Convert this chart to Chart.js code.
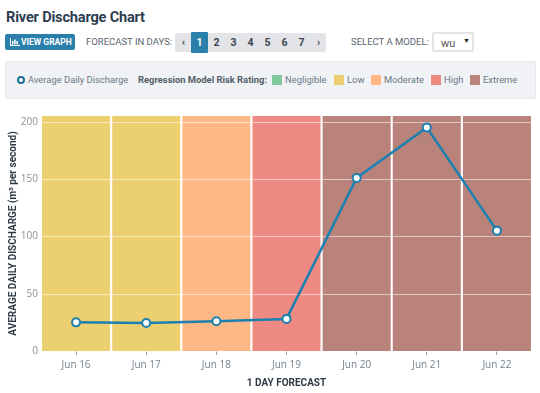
<!DOCTYPE html>
<html>
<head>
<meta charset="utf-8">
<script src="https://cdn.jsdelivr.net/npm/chart.js@4/dist/chart.umd.min.js"></script>
<style>
  html, body { margin: 0; padding: 0; background: #fff; }
  body { width: 540px; height: 393px; position: relative; overflow: hidden; font-family: Roboto, sans-serif; color: #55606c; }
  .abs { position: absolute; white-space: nowrap; }
  #title { left: 6px; top: 8px; font-size: 14.6px; line-height: 18px; font-weight: 700; color: #2c3e50; letter-spacing: -0.2px; }
  #viewBtn { left: 5px; top: 34px; width: 70px; height: 16px; background: #2b80ab; border-radius: 2px; color: #fff; font-size: 8.5px; font-weight: 700; line-height: 16px; }
  #viewBtn svg { position: absolute; left: 5px; top: 4px; }
  #viewBtn span { position: absolute; left: 16px; }
  .lbl { font-size: 9.5px; line-height: 12px; color: #5a6570; }
  #pager { left: 175px; top: 33px; width: 151px; height: 19px; background: #e3e4e7; border-radius: 2px; }
  .pg { position: absolute; top: 33px; width: 17px; height: 19px; line-height: 20px; text-align: center; font-size: 10.5px; font-weight: 700; color: #3c4650; }
  .pg.on { top: 32px; height: 21px; line-height: 22px; background: #2b80ab; color: #fff; border-radius: 1px; }
  #select { left: 432px; top: 32px; width: 38px; height: 16px; border: 2px solid #e2e3e6; background: #fff; border-radius: 2px; font-size: 11px; line-height: 19px; color: #555; }
  #select b { position: absolute; left: 7px; font-weight: 400; }
  #select i { position: absolute; left: 29px; top: -2px; font-style: normal; font-size: 7px; color: #222; }
  #legendBox { left: 5px; top: 61px; width: 529px; height: 36px; background: #f0f2f6; border: 1px solid #e5e8ee; border-radius: 2px; }
  .lg { font-size: 9.4px; line-height: 12px; top: 74px; color: #6b7785; }
  .sw { position: absolute; top: 75px; width: 10px; height: 10px; }
  #dot { left: 17px; top: 76px; width: 4px; height: 4px; border: 2px solid #1f6f9c; border-radius: 50%; background: #fff; box-sizing: content-box; }
  #wrap { position: absolute; left: 0; top: 105px; width: 540px; height: 288px; }
</style>
</head>
<body>
<div class="abs" id="title">River Discharge Chart</div>
<div class="abs" id="viewBtn">
  <svg width="10" height="8" viewBox="0 0 10 8"><path fill="#fff" d="M0 0h1v7h9v1H0zM2 3h1.500v3.500H2zM4.200 1.500h1.500v5H4.200zM6.400 3h1.500v3.500H6.400z"/></svg>
  <span>VIEW GRAPH</span>
</div>
<div class="abs lbl" style="left:86px;top:36px">FORECAST IN DAYS:</div>
<div class="abs" id="pager"></div>
<div id="pages"></div>
<div class="abs lbl" style="left:351px;top:36px">SELECT A MODEL:</div>
<div class="abs" id="select"><b>wu</b><i>&#9660;</i></div>
<div class="abs" id="legendBox"></div>
<div class="abs" id="dot"></div>
<div class="abs lg" style="left:28px">Average Daily Discharge</div>
<div class="abs lg" style="left:138px;font-weight:700;color:#535e69">Regression Model Risk Rating:</div>
<div id="riskLegend"></div>
<div id="wrap"><canvas id="riverChart" width="540" height="288"></canvas></div>

<script>
var days = ['Jun 16', 'Jun 17', 'Jun 18', 'Jun 19', 'Jun 20', 'Jun 21', 'Jun 22'];
var discharge = [25, 24.5, 26, 28, 151, 195, 105];
var dayRisk = ['Low', 'Low', 'Moderate', 'High', 'Extreme', 'Extreme', 'Extreme'];
var riskNames = ['Negligible', 'Low', 'Moderate', 'High', 'Extreme'];
var riskColors = ['#80c79d', '#ecd06f', '#fdb885', '#ee8a82', '#b9827a'];
var pageLabels = ['\u2039', '1', '2', '3', '4', '5', '6', '7', '\u203a'];
var axisTop = 205;

// html bits around the chart
var pagesEl = document.getElementById('pages');
var pageLeft = [175, 191, 208, 225, 242, 259, 276, 293, 310];
pageLabels.forEach(function (p, i) {
  var d = document.createElement('div');
  d.className = 'pg' + (p === '1' ? ' on' : '');
  d.style.left = pageLeft[i] + 'px';
  d.textContent = p;
  pagesEl.appendChild(d);
});
var swatchLeft = [272, 334, 371, 431, 470];
var riskLegend = document.getElementById('riskLegend');
riskNames.forEach(function (n, i) {
  var s = document.createElement('div');
  s.className = 'sw';
  s.style.left = swatchLeft[i] + 'px';
  s.style.background = riskColors[i];
  riskLegend.appendChild(s);
  var t = document.createElement('div');
  t.className = 'abs lg';
  t.style.left = (swatchLeft[i] + 13) + 'px';
  t.textContent = n;
  riskLegend.appendChild(t);
});

// white horizontal lines sit above the risk bands but below the line
var bandGrid = {
  id: 'bandGrid',
  afterDatasetDraw: function (chart, args) {
    if (args.index !== 1) return;
    var ctx = chart.ctx, y = chart.scales.y, area = chart.chartArea;
    ctx.save();
    ctx.strokeStyle = 'rgba(255,255,255,0.55)';
    ctx.lineWidth = 1;
    y.ticks.forEach(function (t) {
      var py = Math.round(y.getPixelForValue(t.value)) + 0.5;
      ctx.beginPath();
      ctx.moveTo(area.left, py);
      ctx.lineTo(area.right, py);
      ctx.stroke();
    });
    ctx.restore();
  }
};

new Chart(document.getElementById('riverChart'), {
  data: {
    labels: days,
    datasets: [
      {
        type: 'line',
        label: 'Average Daily Discharge',
        data: discharge,
        order: 0,
        borderColor: '#1c80b0',
        borderWidth: 2.5,
        tension: 0,
        pointRadius: 4,
        pointBorderWidth: 2,
        pointBackgroundColor: '#fff',
        pointBorderColor: '#1c80b0'
      },
      {
        type: 'bar',
        label: 'Risk',
        data: days.map(function () { return axisTop; }),
        order: 1,
        backgroundColor: dayRisk.map(function (r) { return riskColors[riskNames.indexOf(r)]; }),
        barPercentage: 1,
        categoryPercentage: 0.97
      }
    ]
  },
  options: {
    animation: false,
    responsive: false,
    layout: { padding: { top: 11, right: 8, bottom: 0, left: 0 } },
    plugins: { legend: { display: false }, tooltip: { enabled: false } },
    scales: {
      x: {
        grid: { drawOnChartArea: false, drawTicks: true, tickLength: 4, color: '#999', offset: false },
        border: { display: false },
        ticks: { color: '#76838f', font: { family: 'Open Sans', size: 10 }, padding: 4, maxRotation: 0 },
        title: { display: true, text: '1 DAY FORECAST', color: '#2e3a45', font: { family: 'Roboto', size: 10, weight: 'bold' }, padding: { top: 2, bottom: 4 } }
      },
      y: {
        min: 0,
        max: axisTop,
        grid: { display: false, drawTicks: false },
        border: { display: false },
        ticks: { stepSize: 50, includeBounds: false, color: '#8b9098', font: { family: 'Open Sans', size: 10 }, padding: 3 },
        title: { display: true, text: 'AVERAGE DAILY DISCHARGE (m\u00b3 per second)', color: '#2e3a45', font: { family: 'Roboto', size: 10, weight: 'bold' }, padding: { top: 7, bottom: 0 } },
        afterFit: function (s) { s.width = 41; }
      }
    }
  },
  plugins: [bandGrid]
});
</script>
</body>
</html>
